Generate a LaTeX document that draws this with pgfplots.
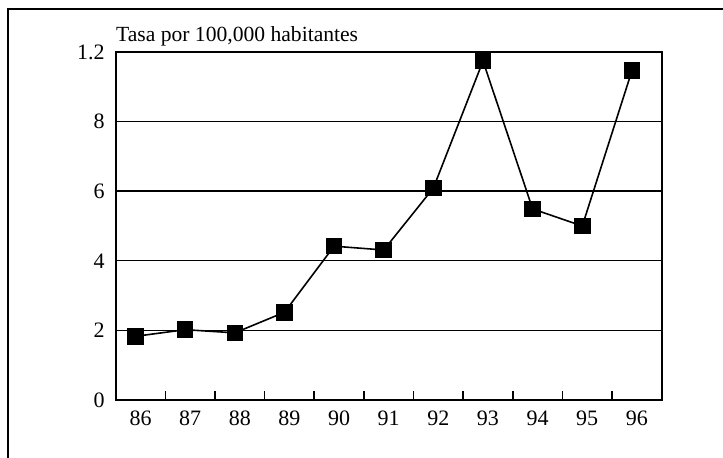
\documentclass[border=0pt]{standalone}
\usepackage{fontspec}
\setmainfont{Liberation Serif}
\usepackage{pgfplots}
\pgfplotsset{compat=1.18}
\begin{document}
\begin{tikzpicture}[x=1pt,y=1pt]
\path[use as bounding box] (-57.85,-29) rectangle (303.65,200);
\begin{axis}[
  at={(0,0)}, anchor=south west,
  width=273pt, height=174pt, scale only axis,
  xmin=85.6, xmax=96.6, ymin=0, ymax=10,
  clip=false,
  axis line style={line width=1pt},
  xtick={86.1,87.1,88.1,89.1,90.1,91.1,92.1,93.1,94.1,95.1,96.1},
  xticklabels={86,87,88,89,90,91,92,93,94,95,96},
  minor xtick={86.6,87.6,88.6,89.6,90.6,91.6,92.6,93.6,94.6,95.6},
  ytick={0,2,4,6,8,10},
  yticklabels={0,2,4,6,8,1.2},
  major tick length=0pt,
  minor tick length=4.5pt,
  tick align=inside,
  xtick pos=bottom, ytick pos=left,
  minor tick style={line width=0.8pt, black},
  ymajorgrids,
  major grid style={line width=0.7pt, black},
  /pgf/number format/assume math mode=true,
  tick label style={font=\fontsize{11}{13}\selectfont},
  xticklabel style={yshift=-2pt},
  yticklabel style={xshift=-2pt},
]
\addplot[black, line width=0.8pt, mark=square*, mark size=3.75pt, mark options={solid}]
  coordinates {(86,1.83) (87,2.02) (88,1.93) (89,2.52) (90,4.42) (91,4.31)
               (92,6.09) (93,9.74) (94,5.49) (95,5.00) (96,9.46)};
\node[anchor=base west, inner sep=0pt, font=\fontsize{10.8}{13}\selectfont] at (rel axis cs:0,1) [yshift=5pt] {Tasa por 100,000 habitantes};
\end{axis}
\draw[line width=0.9pt] (-53.85,-40) -- (-53.85,195.5) -- (320,195.5);
\end{tikzpicture}
\end{document}
